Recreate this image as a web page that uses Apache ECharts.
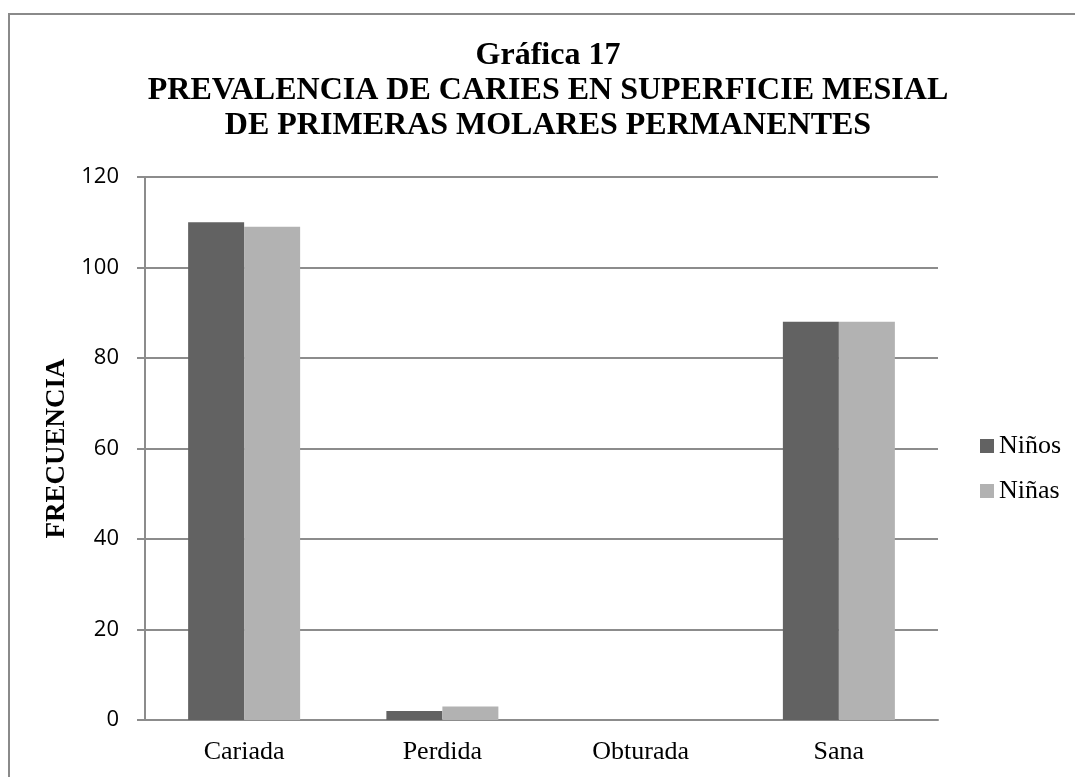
<!DOCTYPE html>
<html>
<head>
<meta charset="utf-8">
<script src="https://cdn.jsdelivr.net/npm/echarts@6/dist/echarts.min.js"></script>
<style>
  html, body { margin: 0; padding: 0; background: #fff; }
  #frame {
    position: absolute; left: 8px; top: 13px; right: 0; bottom: 0;
    border-left: 2px solid #8a8a8a; border-top: 2px solid #8a8a8a;
  }
  #chart { position: absolute; left: 0; top: 0; width: 1075px; height: 777px; }
</style>
</head>
<body>
<div id="frame"></div>
<div id="chart"></div>
<script>
// datos de la grafica
var categorias = ['Cariada', 'Perdida', 'Obturada', 'Sana'];
var ninos = [110, 2, 0, 88];
var ninas = [109, 3, 0, 88];
var ticksY = [0, 20, 40, 60, 80, 100, 120];

var chart = echarts.init(document.getElementById('chart'));
chart.setOption({
  animation: false,
  title: {
    text: 'Gráfica 17\nPREVALENCIA DE CARIES EN SUPERFICIE MESIAL\nDE PRIMERAS MOLARES PERMANENTES',
    left: 543,
    top: 33,
    textAlign: 'center',
    textStyle: {
      fontFamily: 'Liberation Serif',
      fontWeight: 'bold',
      fontSize: 32,
      lineHeight: 35,
      color: '#000'
    }
  },
  grid: { left: 145, right: 137, top: 177, bottom: 57 },
  legend: {
    data: ['Niños', 'Niñas'],
    orient: 'vertical',
    left: 975,
    top: 428,
    itemWidth: 14,
    itemHeight: 14,
    itemGap: 19,
    icon: 'rect',
    textStyle: { fontFamily: 'Liberation Serif', fontSize: 26, lineHeight: 26, color: '#000' }
  },
  xAxis: {
    type: 'category',
    data: categorias,
    axisLine: { lineStyle: { color: '#8c8c8c', width: 2 } },
    axisTick: { show: false },
    axisLabel: { fontFamily: 'Liberation Serif', fontSize: 26, color: '#000', margin: 19 }
  },
  yAxis: {
    type: 'value',
    min: ticksY[0],
    max: ticksY[ticksY.length - 1],
    interval: 20,
    name: 'FRECUENCIA',
    nameLocation: 'middle',
    nameGap: 74,
    nameRotate: 90,
    nameTextStyle: { fontFamily: 'Liberation Serif', fontWeight: 'bold', fontSize: 27, color: '#000' },
    axisLine: { show: true, lineStyle: { color: '#8c8c8c', width: 2 } },
    axisTick: { show: true, length: 8, lineStyle: { color: '#8c8c8c', width: 2 } },
    splitLine: { lineStyle: { color: '#8c8c8c', width: 2 } },
    axisLabel: { fontFamily: 'Open Sans', fontSize: 22, color: '#000', margin: 26 }
  },
  series: [
    {
      name: 'Niños',
      type: 'bar',
      data: ninos,
      barWidth: 56,
      barGap: '0%',
      itemStyle: { color: '#626262' }
    },
    {
      name: 'Niñas',
      type: 'bar',
      data: ninas,
      barWidth: 56,
      itemStyle: { color: '#b2b2b2' }
    }
  ]
});
</script>
</body>
</html>
